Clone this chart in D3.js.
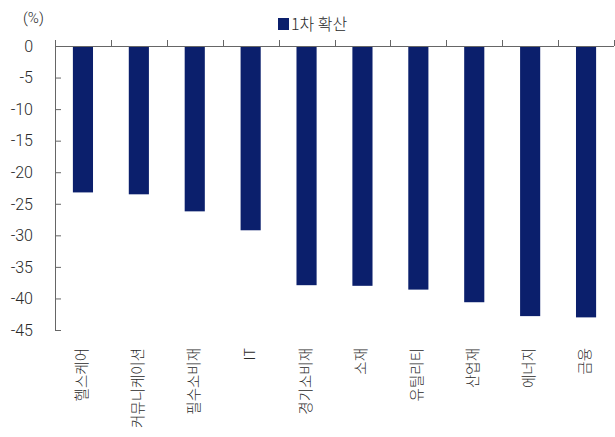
<!DOCTYPE html>
<html>
<head>
<meta charset="utf-8">
<script src="https://cdn.jsdelivr.net/npm/d3@7"></script>
<style>
  html, body { margin: 0; padding: 0; background: #fff; }
  svg { display: block; }
  text { font-family: Roboto, "Noto Sans CJK KR", sans-serif; fill: #2a2a2a; }
  .kr { font-family: "Noto Sans CJK KR", sans-serif; font-weight: 300; }
</style>
</head>
<body>
<svg id="chart" width="615" height="437"></svg>
<script>
const categories = ["헬스케어", "커뮤니케이션", "필수소비재", "IT", "경기소비재", "소재", "유틸리티", "산업재", "에너지", "금융"];
const values = [-23.2, -23.5, -26.2, -29.2, -37.9, -38.0, -38.6, -40.6, -42.8, -43.0];
const yTicks = [0, -5, -10, -15, -20, -25, -30, -35, -40, -45];
const seriesName = "1차 확산";
const unitLabel = "(%)";

const svg = d3.select("#chart");
const pL = 55, pR = 614, pT = 46, pB = 330;
const barColor = "#0b1f6c";
const axisColor = "#666";

const x = d3.scaleBand().domain(categories).range([pL, pR]).paddingInner(0.64).paddingOuter(0.32);
const y = d3.scaleLinear().domain([0, -45]).range([pT, pB]);

// bars
svg.append("g").selectAll("rect").data(values).enter().append("rect")
  .attr("x", (d, i) => x(categories[i]))
  .attr("width", x.bandwidth())
  .attr("y", y(0))
  .attr("height", d => y(d) - y(0))
  .attr("fill", barColor);

// y axis
const yAxis = svg.append("g").attr("transform", `translate(${pL},0)`)
  .call(d3.axisRight(y).tickValues(yTicks).tickSize(6).tickFormat(""));
yAxis.select(".domain").attr("stroke", axisColor).attr("d", `M0.5,${pT}V${pB}`);
yAxis.selectAll(".tick line").attr("stroke", axisColor);

svg.append("g").selectAll("text").data(yTicks).enter().append("text")
  .attr("x", 33).attr("y", d => y(d)).attr("dy", "0.36em")
  .attr("text-anchor", "end")
  .style("font-size", "16px").style("font-weight", 300)
  .text(d => d);

// x axis line at 0 with upward boundary ticks
const step = x.step();
const bounds = d3.range(categories.length + 1).map(i => pL + i * step);
const xg = svg.append("g");
xg.append("line").attr("x1", pL).attr("x2", pR).attr("y1", y(0) + 0.5).attr("y2", y(0) + 0.5).attr("stroke", axisColor);
xg.selectAll(".bt").data(bounds).enter().append("line")
  .attr("x1", d => Math.round(d) + 0.5).attr("x2", d => Math.round(d) + 0.5)
  .attr("y1", y(0) - 6).attr("y2", y(0)).attr("stroke", axisColor);

// category labels
svg.append("g").selectAll("text").data(categories).enter().append("text")
  .attr("class", "kr")
  .attr("transform", d => `translate(${x(d) + x.bandwidth() / 2 + 4},348) rotate(-90)`)
  .attr("text-anchor", "end")
  .style("font-size", "14.5px")
  .text(d => d);

// unit label
svg.append("text").attr("x", 23).attr("y", 23).style("font-size", "15px").style("font-weight", 300).text(unitLabel);

// legend
svg.append("rect").attr("x", 278).attr("y", 18).attr("width", 11).attr("height", 12).attr("fill", barColor);
svg.append("text").attr("class", "kr").attr("x", 291).attr("y", 30).style("font-size", "16px").text(seriesName);
</script>
</body>
</html>
